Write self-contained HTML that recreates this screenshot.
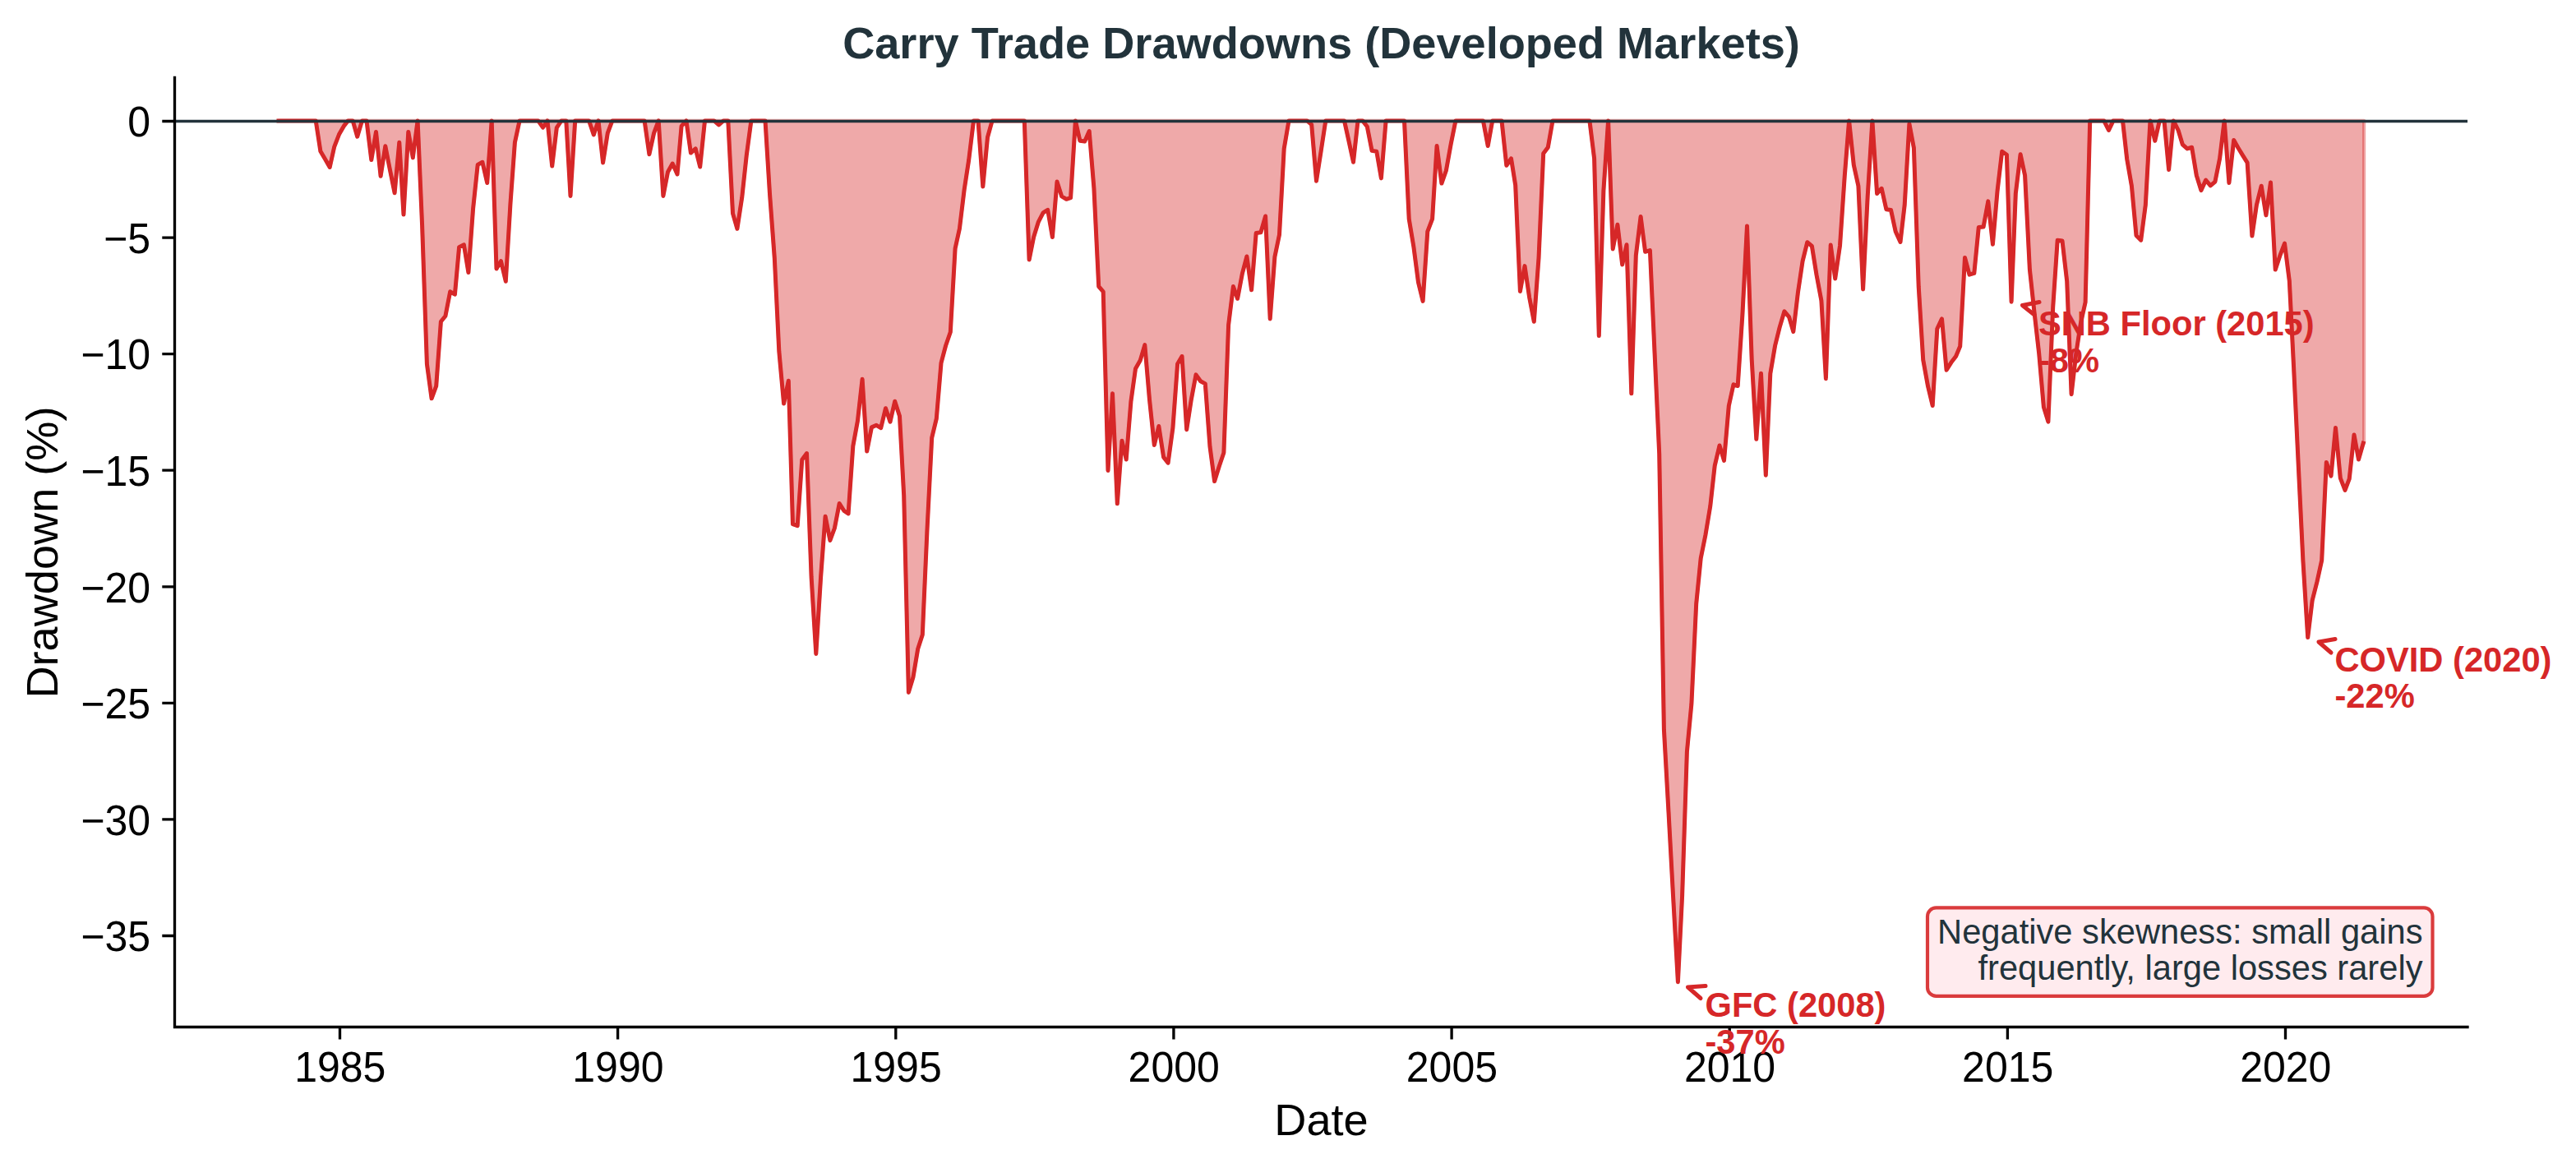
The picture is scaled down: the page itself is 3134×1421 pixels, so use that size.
<!DOCTYPE html>
<html lang="en"><head><meta charset="utf-8"><title>Carry Trade Drawdowns (Developed Markets)</title>
<style>html,body{margin:0;padding:0;background:#fff}svg{display:block}text{font-family:"Liberation Sans",sans-serif}</style></head><body>
<svg width="3134" height="1421" viewBox="0 0 3134 1421">
<rect x="0" y="0" width="3134" height="1421" fill="#ffffff"/>
<polygon points="339.0,146.9 344.7,146.9 350.5,146.9 355.9,146.9 361.6,146.9 367.1,146.9 372.9,146.9 378.4,146.9 384.2,146.9 389.9,184.0 395.5,193.6 401.2,203.5 406.8,178.3 412.5,163.6 418.3,153.4 423.4,146.9 429.2,146.9 434.7,166.2 440.5,146.9 446.0,146.9 451.8,194.5 457.5,160.5 463.1,214.3 468.8,177.8 474.4,206.4 480.1,234.7 485.8,173.2 491.0,261.0 496.8,160.5 502.3,191.9 508.1,146.9 513.6,274.3 519.4,442.8 525.1,484.8 530.7,469.7 536.4,391.3 541.9,384.5 547.7,354.8 553.4,358.2 558.6,300.7 564.4,297.8 569.9,331.5 575.6,253.7 581.2,200.4 586.9,197.3 592.7,222.5 598.2,146.9 604.0,327.0 609.5,317.7 615.3,342.3 621.0,247.2 626.4,173.2 632.1,146.9 637.7,146.9 643.4,146.9 649.0,146.9 654.7,146.9 660.5,155.1 666.0,146.9 671.7,202.1 677.3,155.4 683.0,146.9 688.8,146.9 694.0,238.4 699.7,146.9 705.3,146.9 711.0,146.9 716.6,146.9 722.3,163.9 728.0,146.9 733.6,197.9 739.3,161.9 744.9,146.9 750.6,146.9 756.4,146.9 761.6,146.9 767.3,146.9 772.9,146.9 778.6,146.9 784.1,146.9 789.9,187.7 795.6,161.9 801.2,146.9 806.9,238.4 812.5,209.2 818.2,199.0 824.0,212.0 829.1,153.4 834.9,146.9 840.4,186.0 846.2,180.9 851.7,203.0 857.5,146.9 863.2,146.9 868.8,146.9 874.5,152.0 880.1,146.9 885.8,146.9 891.5,259.6 896.9,278.3 902.7,240.4 908.2,189.4 913.9,146.9 919.5,146.9 925.2,146.9 931.0,146.9 936.5,235.8 942.3,314.0 947.8,427.3 953.6,491.0 959.3,463.2 964.5,637.7 970.2,639.7 975.8,559.2 981.5,551.6 987.1,702.0 992.8,795.4 998.6,702.0 1004.1,628.3 1009.9,657.5 1015.4,642.5 1021.2,612.5 1026.9,621.5 1032.1,624.9 1037.8,542.8 1043.4,512.2 1049.1,461.3 1054.7,549.0 1060.4,519.9 1066.2,517.3 1071.7,520.7 1077.5,496.7 1083.0,513.1 1088.7,488.2 1094.5,506.3 1099.7,602.9 1105.4,842.4 1111.0,823.7 1116.7,789.5 1122.3,772.2 1128.0,644.5 1133.7,532.6 1139.3,509.4 1145.0,441.7 1150.6,420.5 1156.3,404.0 1162.1,302.4 1167.4,278.3 1173.2,230.4 1178.7,194.5 1184.5,146.9 1190.0,146.9 1195.8,227.0 1201.5,167.0 1207.1,146.9 1212.8,146.9 1218.4,146.9 1224.1,146.9 1229.8,146.9 1235.0,146.9 1240.8,146.9 1246.3,146.9 1252.1,316.0 1257.6,288.5 1263.4,269.8 1269.1,258.8 1274.7,255.4 1280.4,288.5 1286.0,221.1 1291.7,238.9 1297.4,242.3 1302.6,240.6 1308.4,146.9 1313.9,171.3 1319.7,172.1 1325.2,159.6 1330.9,228.7 1336.7,348.5 1342.2,354.8 1348.0,572.5 1353.5,478.8 1359.3,612.8 1365.0,536.3 1370.2,559.0 1375.9,488.7 1381.5,448.5 1387.2,438.6 1392.8,419.6 1398.5,486.2 1404.3,541.4 1409.8,518.5 1415.6,556.1 1421.1,563.2 1426.9,520.7 1432.6,442.8 1438.0,433.5 1443.7,522.7 1449.3,486.2 1455.0,455.9 1460.6,463.8 1466.3,466.9 1472.0,543.4 1477.6,585.6 1483.3,567.2 1488.9,550.7 1494.6,395.5 1500.4,348.5 1505.6,363.3 1511.3,333.2 1516.9,312.0 1522.6,352.8 1528.2,283.4 1533.9,282.8 1539.6,263.0 1545.2,387.9 1550.9,312.6 1556.5,285.4 1562.2,180.9 1568.0,146.9 1573.1,146.9 1578.9,146.9 1584.4,146.9 1590.2,146.9 1595.7,151.7 1601.5,220.2 1607.2,183.7 1612.8,146.9 1618.5,146.9 1624.1,146.9 1629.8,146.9 1635.5,146.9 1640.7,170.4 1646.5,197.3 1652.0,146.9 1657.8,146.9 1663.3,154.0 1669.1,183.4 1674.8,184.3 1680.4,216.9 1686.1,146.9 1691.7,146.9 1697.4,146.9 1703.1,146.9 1708.5,146.9 1714.2,266.4 1719.8,299.8 1725.5,343.4 1731.1,366.4 1736.8,281.7 1742.6,266.4 1748.1,177.5 1753.9,223.1 1759.4,207.5 1765.2,175.2 1770.9,146.9 1776.1,146.9 1781.8,146.9 1787.4,146.9 1793.1,146.9 1798.7,146.9 1804.4,146.9 1810.2,177.5 1815.7,146.9 1821.5,146.9 1827.0,146.9 1832.8,201.3 1838.5,192.8 1843.7,225.3 1849.4,354.5 1855.0,323.6 1860.7,362.1 1866.3,391.3 1872.0,314.3 1877.7,186.8 1883.3,179.2 1889.0,146.9 1894.6,146.9 1900.3,146.9 1906.1,146.9 1911.3,146.9 1917.0,146.9 1922.6,146.9 1928.3,146.9 1933.9,146.9 1939.6,192.8 1945.3,408.6 1950.9,231.9 1956.6,146.9 1962.2,302.9 1967.9,273.2 1973.7,321.9 1979.0,297.8 1984.8,478.8 1990.3,310.9 1996.1,263.6 2001.6,306.3 2007.4,304.6 2013.1,430.1 2018.7,551.9 2024.4,887.5 2030.0,988.0 2035.7,1092.8 2041.4,1194.7 2046.6,1090.0 2052.4,914.4 2057.9,856.3 2063.7,734.5 2069.2,679.3 2075.0,650.4 2080.7,616.2 2086.2,566.6 2092.0,542.0 2097.5,560.4 2103.3,493.8 2109.0,467.8 2114.2,469.5 2119.9,382.8 2125.5,274.9 2131.2,437.7 2136.8,534.3 2142.5,454.2 2148.3,578.2 2153.8,454.7 2159.6,420.5 2165.1,398.4 2170.9,378.8 2176.6,385.6 2181.8,403.5 2187.5,355.3 2193.1,317.7 2198.8,294.7 2204.4,299.5 2210.1,334.9 2215.9,365.8 2221.4,460.7 2227.2,298.1 2232.7,338.9 2238.5,299.0 2244.2,214.9 2249.6,146.9 2255.3,200.7 2260.9,226.2 2266.6,351.9 2272.2,238.9 2277.9,146.9 2283.6,235.5 2289.2,229.3 2294.9,254.8 2300.5,255.4 2306.2,281.7 2312.0,294.4 2317.2,249.4 2322.9,150.6 2328.4,180.0 2334.2,348.5 2339.7,437.7 2345.5,469.7 2351.2,493.5 2356.8,400.1 2362.5,387.9 2368.1,450.2 2373.8,441.1 2379.6,433.5 2384.7,421.3 2390.5,313.4 2396.0,334.1 2401.8,332.4 2407.3,276.6 2413.1,276.0 2418.8,244.9 2424.4,297.3 2430.1,231.9 2435.7,184.3 2441.4,188.2 2447.1,367.2 2452.3,235.5 2458.1,187.7 2463.6,213.5 2469.4,328.1 2474.9,379.1 2480.7,430.1 2486.4,495.2 2491.9,513.1 2497.7,373.5 2503.2,292.2 2509.0,293.0 2514.7,342.3 2520.1,479.7 2525.8,430.1 2531.4,393.3 2537.1,367.8 2542.7,146.9 2548.4,146.9 2554.2,146.9 2559.7,146.9 2565.5,158.5 2571.0,146.9 2576.8,146.9 2582.5,146.9 2587.7,193.6 2593.4,226.2 2599.0,286.5 2604.7,292.2 2610.3,249.4 2616.0,146.9 2621.8,171.3 2627.3,146.9 2633.0,146.9 2638.6,206.4 2644.3,146.9 2650.1,158.5 2655.3,175.8 2661.0,180.9 2666.6,179.2 2672.3,213.5 2677.9,231.6 2683.6,219.1 2689.3,225.9 2694.9,221.1 2700.6,192.8 2706.2,146.9 2711.9,222.5 2717.7,170.4 2722.9,179.8 2728.6,189.1 2734.1,197.9 2739.9,287.1 2745.4,249.4 2751.2,226.2 2756.9,261.9 2762.5,221.9 2768.2,328.1 2773.8,311.2 2779.5,296.1 2785.3,341.7 2790.6,447.1 2796.4,568.9 2801.9,682.1 2807.7,775.6 2813.2,730.3 2819.0,707.6 2824.7,681.6 2830.3,562.4 2836.0,579.1 2841.5,520.4 2847.3,581.6 2853.0,596.3 2858.2,582.7 2864.0,528.9 2869.5,559.0 2875.2,539.1 2876.1,539.1 2876.1,146.9 339.0,146.9" fill="#d62728" fill-opacity="0.4" stroke="#d62728" stroke-opacity="0.4" stroke-width="4.17" stroke-linejoin="round"/>
<polyline points="339.0,146.9 344.7,146.9 350.5,146.9 355.9,146.9 361.6,146.9 367.1,146.9 372.9,146.9 378.4,146.9 384.2,146.9 389.9,184.0 395.5,193.6 401.2,203.5 406.8,178.3 412.5,163.6 418.3,153.4 423.4,146.9 429.2,146.9 434.7,166.2 440.5,146.9 446.0,146.9 451.8,194.5 457.5,160.5 463.1,214.3 468.8,177.8 474.4,206.4 480.1,234.7 485.8,173.2 491.0,261.0 496.8,160.5 502.3,191.9 508.1,146.9 513.6,274.3 519.4,442.8 525.1,484.8 530.7,469.7 536.4,391.3 541.9,384.5 547.7,354.8 553.4,358.2 558.6,300.7 564.4,297.8 569.9,331.5 575.6,253.7 581.2,200.4 586.9,197.3 592.7,222.5 598.2,146.9 604.0,327.0 609.5,317.7 615.3,342.3 621.0,247.2 626.4,173.2 632.1,146.9 637.7,146.9 643.4,146.9 649.0,146.9 654.7,146.9 660.5,155.1 666.0,146.9 671.7,202.1 677.3,155.4 683.0,146.9 688.8,146.9 694.0,238.4 699.7,146.9 705.3,146.9 711.0,146.9 716.6,146.9 722.3,163.9 728.0,146.9 733.6,197.9 739.3,161.9 744.9,146.9 750.6,146.9 756.4,146.9 761.6,146.9 767.3,146.9 772.9,146.9 778.6,146.9 784.1,146.9 789.9,187.7 795.6,161.9 801.2,146.9 806.9,238.4 812.5,209.2 818.2,199.0 824.0,212.0 829.1,153.4 834.9,146.9 840.4,186.0 846.2,180.9 851.7,203.0 857.5,146.9 863.2,146.9 868.8,146.9 874.5,152.0 880.1,146.9 885.8,146.9 891.5,259.6 896.9,278.3 902.7,240.4 908.2,189.4 913.9,146.9 919.5,146.9 925.2,146.9 931.0,146.9 936.5,235.8 942.3,314.0 947.8,427.3 953.6,491.0 959.3,463.2 964.5,637.7 970.2,639.7 975.8,559.2 981.5,551.6 987.1,702.0 992.8,795.4 998.6,702.0 1004.1,628.3 1009.9,657.5 1015.4,642.5 1021.2,612.5 1026.9,621.5 1032.1,624.9 1037.8,542.8 1043.4,512.2 1049.1,461.3 1054.7,549.0 1060.4,519.9 1066.2,517.3 1071.7,520.7 1077.5,496.7 1083.0,513.1 1088.7,488.2 1094.5,506.3 1099.7,602.9 1105.4,842.4 1111.0,823.7 1116.7,789.5 1122.3,772.2 1128.0,644.5 1133.7,532.6 1139.3,509.4 1145.0,441.7 1150.6,420.5 1156.3,404.0 1162.1,302.4 1167.4,278.3 1173.2,230.4 1178.7,194.5 1184.5,146.9 1190.0,146.9 1195.8,227.0 1201.5,167.0 1207.1,146.9 1212.8,146.9 1218.4,146.9 1224.1,146.9 1229.8,146.9 1235.0,146.9 1240.8,146.9 1246.3,146.9 1252.1,316.0 1257.6,288.5 1263.4,269.8 1269.1,258.8 1274.7,255.4 1280.4,288.5 1286.0,221.1 1291.7,238.9 1297.4,242.3 1302.6,240.6 1308.4,146.9 1313.9,171.3 1319.7,172.1 1325.2,159.6 1330.9,228.7 1336.7,348.5 1342.2,354.8 1348.0,572.5 1353.5,478.8 1359.3,612.8 1365.0,536.3 1370.2,559.0 1375.9,488.7 1381.5,448.5 1387.2,438.6 1392.8,419.6 1398.5,486.2 1404.3,541.4 1409.8,518.5 1415.6,556.1 1421.1,563.2 1426.9,520.7 1432.6,442.8 1438.0,433.5 1443.7,522.7 1449.3,486.2 1455.0,455.9 1460.6,463.8 1466.3,466.9 1472.0,543.4 1477.6,585.6 1483.3,567.2 1488.9,550.7 1494.6,395.5 1500.4,348.5 1505.6,363.3 1511.3,333.2 1516.9,312.0 1522.6,352.8 1528.2,283.4 1533.9,282.8 1539.6,263.0 1545.2,387.9 1550.9,312.6 1556.5,285.4 1562.2,180.9 1568.0,146.9 1573.1,146.9 1578.9,146.9 1584.4,146.9 1590.2,146.9 1595.7,151.7 1601.5,220.2 1607.2,183.7 1612.8,146.9 1618.5,146.9 1624.1,146.9 1629.8,146.9 1635.5,146.9 1640.7,170.4 1646.5,197.3 1652.0,146.9 1657.8,146.9 1663.3,154.0 1669.1,183.4 1674.8,184.3 1680.4,216.9 1686.1,146.9 1691.7,146.9 1697.4,146.9 1703.1,146.9 1708.5,146.9 1714.2,266.4 1719.8,299.8 1725.5,343.4 1731.1,366.4 1736.8,281.7 1742.6,266.4 1748.1,177.5 1753.9,223.1 1759.4,207.5 1765.2,175.2 1770.9,146.9 1776.1,146.9 1781.8,146.9 1787.4,146.9 1793.1,146.9 1798.7,146.9 1804.4,146.9 1810.2,177.5 1815.7,146.9 1821.5,146.9 1827.0,146.9 1832.8,201.3 1838.5,192.8 1843.7,225.3 1849.4,354.5 1855.0,323.6 1860.7,362.1 1866.3,391.3 1872.0,314.3 1877.7,186.8 1883.3,179.2 1889.0,146.9 1894.6,146.9 1900.3,146.9 1906.1,146.9 1911.3,146.9 1917.0,146.9 1922.6,146.9 1928.3,146.9 1933.9,146.9 1939.6,192.8 1945.3,408.6 1950.9,231.9 1956.6,146.9 1962.2,302.9 1967.9,273.2 1973.7,321.9 1979.0,297.8 1984.8,478.8 1990.3,310.9 1996.1,263.6 2001.6,306.3 2007.4,304.6 2013.1,430.1 2018.7,551.9 2024.4,887.5 2030.0,988.0 2035.7,1092.8 2041.4,1194.7 2046.6,1090.0 2052.4,914.4 2057.9,856.3 2063.7,734.5 2069.2,679.3 2075.0,650.4 2080.7,616.2 2086.2,566.6 2092.0,542.0 2097.5,560.4 2103.3,493.8 2109.0,467.8 2114.2,469.5 2119.9,382.8 2125.5,274.9 2131.2,437.7 2136.8,534.3 2142.5,454.2 2148.3,578.2 2153.8,454.7 2159.6,420.5 2165.1,398.4 2170.9,378.8 2176.6,385.6 2181.8,403.5 2187.5,355.3 2193.1,317.7 2198.8,294.7 2204.4,299.5 2210.1,334.9 2215.9,365.8 2221.4,460.7 2227.2,298.1 2232.7,338.9 2238.5,299.0 2244.2,214.9 2249.6,146.9 2255.3,200.7 2260.9,226.2 2266.6,351.9 2272.2,238.9 2277.9,146.9 2283.6,235.5 2289.2,229.3 2294.9,254.8 2300.5,255.4 2306.2,281.7 2312.0,294.4 2317.2,249.4 2322.9,150.6 2328.4,180.0 2334.2,348.5 2339.7,437.7 2345.5,469.7 2351.2,493.5 2356.8,400.1 2362.5,387.9 2368.1,450.2 2373.8,441.1 2379.6,433.5 2384.7,421.3 2390.5,313.4 2396.0,334.1 2401.8,332.4 2407.3,276.6 2413.1,276.0 2418.8,244.9 2424.4,297.3 2430.1,231.9 2435.7,184.3 2441.4,188.2 2447.1,367.2 2452.3,235.5 2458.1,187.7 2463.6,213.5 2469.4,328.1 2474.9,379.1 2480.7,430.1 2486.4,495.2 2491.9,513.1 2497.7,373.5 2503.2,292.2 2509.0,293.0 2514.7,342.3 2520.1,479.7 2525.8,430.1 2531.4,393.3 2537.1,367.8 2542.7,146.9 2548.4,146.9 2554.2,146.9 2559.7,146.9 2565.5,158.5 2571.0,146.9 2576.8,146.9 2582.5,146.9 2587.7,193.6 2593.4,226.2 2599.0,286.5 2604.7,292.2 2610.3,249.4 2616.0,146.9 2621.8,171.3 2627.3,146.9 2633.0,146.9 2638.6,206.4 2644.3,146.9 2650.1,158.5 2655.3,175.8 2661.0,180.9 2666.6,179.2 2672.3,213.5 2677.9,231.6 2683.6,219.1 2689.3,225.9 2694.9,221.1 2700.6,192.8 2706.2,146.9 2711.9,222.5 2717.7,170.4 2722.9,179.8 2728.6,189.1 2734.1,197.9 2739.9,287.1 2745.4,249.4 2751.2,226.2 2756.9,261.9 2762.5,221.9 2768.2,328.1 2773.8,311.2 2779.5,296.1 2785.3,341.7 2790.6,447.1 2796.4,568.9 2801.9,682.1 2807.7,775.6 2813.2,730.3 2819.0,707.6 2824.7,681.6 2830.3,562.4 2836.0,579.1 2841.5,520.4 2847.3,581.6 2853.0,596.3 2858.2,582.7 2864.0,528.9 2869.5,559.0 2875.2,539.1" fill="none" stroke="#d62728" stroke-width="5" stroke-linejoin="round" stroke-linecap="square"/>
<line x1="212.5" y1="147.5" x2="3002.0" y2="147.5" stroke="#22333b" stroke-width="3.33"/>
<path d="M212.5 94.5 V1249.5 H3002.0" fill="none" stroke="#000" stroke-width="3.33" stroke-linecap="square" stroke-linejoin="miter"/>
<path d="M413.5 1249.5 v15 M751.6 1249.5 v15 M1089.8 1249.5 v15 M1427.9 1249.5 v15 M1766.1 1249.5 v15 M2104.2 1249.5 v15 M2442.4 1249.5 v15 M2780.5 1249.5 v15 M212.5 147.5 h-15.2 M212.5 289.1 h-15.2 M212.5 430.6 h-15.2 M212.5 572.2 h-15.2 M212.5 713.8 h-15.2 M212.5 855.4 h-15.2 M212.5 996.9 h-15.2 M212.5 1138.5 h-15.2" stroke="#000" stroke-width="3.33" fill="none"/>
<g font-size="50" fill="#000">
<text transform="translate(413.8 1316.2) scale(1 1.03)" text-anchor="middle">1985</text>
<text transform="translate(751.9 1316.2) scale(1 1.03)" text-anchor="middle">1990</text>
<text transform="translate(1090.1 1316.2) scale(1 1.03)" text-anchor="middle">1995</text>
<text transform="translate(1428.2 1316.2) scale(1 1.03)" text-anchor="middle">2000</text>
<text transform="translate(1766.4 1316.2) scale(1 1.03)" text-anchor="middle">2005</text>
<text transform="translate(2104.5 1316.2) scale(1 1.03)" text-anchor="middle">2010</text>
<text transform="translate(2442.7 1316.2) scale(1 1.03)" text-anchor="middle">2015</text>
<text transform="translate(2780.8 1316.2) scale(1 1.03)" text-anchor="middle">2020</text>
<text transform="translate(183.0 166.3) scale(1 1.03)" text-anchor="end">0</text>
<text transform="translate(183.0 307.9) scale(1 1.03)" text-anchor="end">−5</text>
<text transform="translate(183.0 449.4) scale(1 1.03)" text-anchor="end">−10</text>
<text transform="translate(183.0 591.0) scale(1 1.03)" text-anchor="end">−15</text>
<text transform="translate(183.0 732.6) scale(1 1.03)" text-anchor="end">−20</text>
<text transform="translate(183.0 874.2) scale(1 1.03)" text-anchor="end">−25</text>
<text transform="translate(183.0 1015.7) scale(1 1.03)" text-anchor="end">−30</text>
<text transform="translate(183.0 1157.3) scale(1 1.03)" text-anchor="end">−35</text>
</g>
<text x="1607.5" y="1381" font-size="54.17" text-anchor="middle" fill="#000">Date</text>
<text transform="translate(70.2 672) rotate(-90)" font-size="54.17" text-anchor="middle" fill="#000">Drawdown (%)</text>
<text x="1607.5" y="70.6" font-size="54.17" font-weight="bold" text-anchor="middle" fill="#22333b">Carry Trade Drawdowns (Developed Markets)</text>
<path d="M2075.0 1199.5 L2053.5 1201.0 L2069.0 1214.5" fill="none" stroke="#d62728" stroke-width="5" stroke-linecap="round" stroke-linejoin="round"/>
<text transform="translate(2074.5 1237.0) scale(1 1.04)" font-size="41.67" font-weight="bold" fill="#d62728">GFC (2008)</text>
<text transform="translate(2074.5 1281.8) scale(1 1.04)" font-size="41.67" font-weight="bold" fill="#d62728">-37%</text>
<path d="M2481.0 367.5 L2460.5 371.5 L2475.0 383.0" fill="none" stroke="#d62728" stroke-width="5" stroke-linecap="round" stroke-linejoin="round"/>
<text transform="translate(2480.0 407.7) scale(1 1.04)" font-size="41.67" font-weight="bold" fill="#d62728">SNB Floor (2015)</text>
<text transform="translate(2480.0 452.5) scale(1 1.04)" font-size="41.67" font-weight="bold" fill="#d62728">-8%</text>
<path d="M2841.0 777.5 L2821.0 781.0 L2836.0 794.0" fill="none" stroke="#d62728" stroke-width="5" stroke-linecap="round" stroke-linejoin="round"/>
<text transform="translate(2840.5 816.6) scale(1 1.04)" font-size="41.67" font-weight="bold" fill="#d62728">COVID (2020)</text>
<text transform="translate(2840.5 861.4) scale(1 1.04)" font-size="41.67" font-weight="bold" fill="#d62728">-22%</text>
<rect x="2345" y="1104.4" width="614.5" height="107.5" rx="10.5" ry="10.5" fill="#ffebee" stroke="#d62728" stroke-opacity="0.9" stroke-width="4.17"/>
<text font-size="41.67" fill="#22333b" text-anchor="end"><tspan x="2947.5" y="1147.9">Negative skewness: small gains</tspan><tspan x="2947.5" y="1192">frequently, large losses rarely</tspan></text>
</svg></body></html>
